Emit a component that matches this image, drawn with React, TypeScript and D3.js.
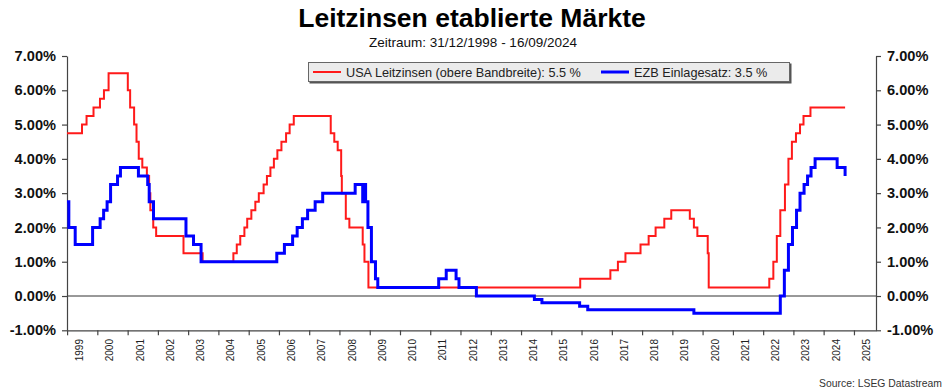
import React, { useEffect, useRef } from "react";
import * as d3 from "d3";

// USA Leitzinsen (obere Bandbreite), Stufen ab Datum
const fedDates = [
  "1998-12-31", "1999-06-30", "1999-08-24", "1999-11-16", "2000-02-02", "2000-03-21",
  "2000-05-16", "2001-01-03", "2001-01-31", "2001-03-20", "2001-04-18", "2001-05-15",
  "2001-06-27", "2001-08-21", "2001-09-17", "2001-10-02", "2001-11-06", "2001-12-11",
  "2002-11-06", "2003-06-25", "2004-06-30", "2004-08-10", "2004-09-21", "2004-11-10",
  "2004-12-14", "2005-02-02", "2005-03-22", "2005-05-03", "2005-06-30", "2005-08-09",
  "2005-09-20", "2005-11-01", "2005-12-13", "2006-01-31", "2006-03-28", "2006-05-10",
  "2006-06-29", "2007-09-18", "2007-10-31", "2007-12-11", "2008-01-22", "2008-01-30",
  "2008-03-18", "2008-04-30", "2008-10-08", "2008-10-29", "2008-12-16", "2015-12-16",
  "2016-12-14", "2017-03-15", "2017-06-14", "2017-12-13", "2018-03-21", "2018-06-13",
  "2018-09-26", "2018-12-19", "2019-07-31", "2019-09-18", "2019-10-30", "2020-03-03",
  "2020-03-15", "2022-03-16", "2022-05-04", "2022-06-15", "2022-07-27", "2022-09-21",
  "2022-11-02", "2022-12-14", "2023-02-01", "2023-03-22", "2023-05-03", "2023-07-26",
  "2024-09-16",
];
const fedRates = [
  4.75, 5.0, 5.25, 5.5, 5.75, 6.0,
  6.5, 6.0, 5.5, 5.0, 4.5, 4.0,
  3.75, 3.5, 3.0, 2.5, 2.0, 1.75,
  1.25, 1.0, 1.25, 1.5, 1.75, 2.0,
  2.25, 2.5, 2.75, 3.0, 3.25, 3.5,
  3.75, 4.0, 4.25, 4.5, 4.75, 5.0,
  5.25, 4.75, 4.5, 4.25, 3.5, 3.0,
  2.25, 2.0, 1.5, 1.0, 0.25, 0.5,
  0.75, 1.0, 1.25, 1.5, 1.75, 2.0,
  2.25, 2.5, 2.25, 2.0, 1.75, 1.25,
  0.25, 0.5, 1.0, 1.75, 2.5, 3.25,
  4.0, 4.5, 4.75, 5.0, 5.25, 5.5,
  5.5,
];

// EZB Einlagesatz
const ecbDates = [
  "1998-12-31", "1999-01-22", "1999-04-09", "1999-11-05", "2000-02-04", "2000-03-17",
  "2000-04-28", "2000-06-09", "2000-09-01", "2000-10-06", "2001-05-11", "2001-08-31",
  "2001-09-18", "2001-11-09", "2002-12-06", "2003-03-07", "2003-06-06", "2005-12-06",
  "2006-03-08", "2006-06-15", "2006-08-09", "2006-10-11", "2006-12-13", "2007-03-14",
  "2007-06-13", "2008-07-09", "2008-10-08", "2008-10-15", "2008-11-12", "2008-12-10",
  "2009-01-21", "2009-03-11", "2009-04-08", "2011-04-13", "2011-07-13", "2011-11-09",
  "2011-12-14", "2012-07-11", "2014-06-11", "2014-09-10", "2015-12-09", "2016-03-16",
  "2019-09-18", "2022-07-27", "2022-09-14", "2022-11-02", "2022-12-21", "2023-02-08",
  "2023-03-22", "2023-05-10", "2023-06-21", "2023-08-02", "2023-09-20", "2024-06-12",
  "2024-09-16",
];
const ecbRates = [
  2.75, 2.0, 1.5, 2.0, 2.25, 2.5,
  2.75, 3.25, 3.5, 3.75, 3.5, 3.25,
  2.75, 2.25, 1.75, 1.5, 1.0, 1.25,
  1.5, 1.75, 2.0, 2.25, 2.5, 2.75,
  3.0, 3.25, 2.75, 3.25, 2.75, 2.0,
  1.0, 0.5, 0.25, 0.5, 0.75, 0.5,
  0.25, 0.0, -0.1, -0.2, -0.3, -0.4,
  -0.5, 0.0, 0.75, 1.5, 2.0, 2.5,
  3.0, 3.25, 3.5, 3.75, 4.0, 3.75,
  3.5,
];

const yTicks = [-1, 0, 1, 2, 3, 4, 5, 6, 7];
const yearLabels = [
  "1999", "2000", "2001", "2002", "2003", "2004", "2005", "2006", "2007",
  "2008", "2009", "2010", "2011", "2012", "2013", "2014", "2015", "2016",
  "2017", "2018", "2019", "2020", "2021", "2022", "2023", "2024", "2025",
];
const seriesNames = ["USA Leitzinsen (obere Bandbreite): 5.5 %", "EZB Einlagesatz: 3.5 %"];

const App: React.FC = () => {
  const svgRef = useRef<SVGSVGElement | null>(null);

  useEffect(() => {
    const svg = d3.select(svgRef.current);
    svg.selectAll("*").remove();

    const W = 945;
    const H = 390;
    const left = 67;
    const right = 876;
    const top = 56;
    const bottom = 330.3;
    const font = "'Liberation Sans', Arial, sans-serif";
    const parse = d3.timeParse("%Y-%m-%d");

    const x = d3
      .scaleTime()
      .domain([parse("1998-12-31")!, parse("2025-09-24")!])
      .range([left, right]);
    const y = d3.scaleLinear().domain([-1, 7]).range([bottom, top]);

    svg.append("rect").attr("width", W).attr("height", H).attr("fill", "white");

    // title
    svg
      .append("text")
      .attr("x", 472)
      .attr("y", 27)
      .attr("text-anchor", "middle")
      .style("font-family", font)
      .style("font-weight", 700)
      .style("font-size", "26.5px")
      .attr("fill", "#000")
      .text("Leitzinsen etablierte Märkte");

    svg
      .append("text")
      .attr("x", 473)
      .attr("y", 47)
      .attr("text-anchor", "middle")
      .style("font-family", font)
      .style("font-size", "13.5px")
      .attr("fill", "#111")
      .text("Zeitraum: 31/12/1998 - 16/09/2024");

    // zero line
    svg
      .append("line")
      .attr("x1", left)
      .attr("x2", right)
      .attr("y1", y(0))
      .attr("y2", y(0))
      .attr("stroke", "#333")
      .attr("stroke-width", 1);

    const styleAxis = (g: d3.Selection<SVGGElement, unknown, null, undefined>) => {
      g.selectAll("path").attr("stroke", "#444").attr("stroke-width", 1.2);
      g.selectAll("line").attr("stroke", "#444").attr("stroke-width", 1.2);
      g.selectAll("text")
        .attr("fill", "#111")
        .style("font-family", font)
        .style("font-weight", 700)
        .style("font-size", "14.6px");
    };

    const minorY = d3.range(-1, 7.001, 0.2);
    const fmt = (d: d3.NumberValue) => (d as number).toFixed(2) + "%";

    // left axis
    const gl = svg.append("g").attr("transform", `translate(${left},0)`);
    gl.call(d3.axisLeft(y).tickValues(minorY).tickSize(3).tickFormat(() => "").tickSizeOuter(0));
    gl.call(d3.axisLeft(y).tickValues(yTicks).tickSize(5).tickPadding(6).tickFormat(fmt).tickSizeOuter(0));
    styleAxis(gl);

    // right axis
    const gr = svg.append("g").attr("transform", `translate(${right},0)`);
    gr.call(d3.axisRight(y).tickValues(minorY).tickSize(3).tickFormat(() => "").tickSizeOuter(0));
    gr.call(d3.axisRight(y).tickValues(yTicks).tickSize(5).tickPadding(6).tickFormat(fmt).tickSizeOuter(0));
    styleAxis(gr);

    // bottom axis
    const gb = svg.append("g").attr("transform", `translate(0,${bottom})`);
    gb.call(d3.axisBottom(x).ticks(d3.timeMonth.every(3)).tickSize(3).tickFormat(() => "").tickSizeOuter(0));
    gb.call(d3.axisBottom(x).ticks(d3.timeYear.every(1)).tickSize(5).tickFormat(() => "").tickSizeOuter(0));
    styleAxis(gb);

    // year labels, rotated
    svg
      .append("g")
      .selectAll("text")
      .data(yearLabels)
      .enter()
      .append("text")
      .attr("transform", (d) => {
        const mid = x(new Date(+d, 6, 1));
        return `translate(${mid + 1},339) rotate(-90)`;
      })
      .attr("text-anchor", "end")
      .style("font-family", font)
      .style("font-size", "10px")
      .attr("fill", "#222")
      .text((d) => d);

    // series
    const line = d3
      .line<[Date, number]>()
      .x((d) => x(d[0]))
      .y((d) => y(d[1]))
      .curve(d3.curveStepAfter);

    const fed: [Date, number][] = fedDates.map((d, i) => [parse(d)!, fedRates[i]]);
    const ecb: [Date, number][] = ecbDates.map((d, i) => [parse(d)!, ecbRates[i]]);

    svg
      .append("path")
      .datum(fed)
      .attr("d", line)
      .attr("fill", "none")
      .attr("stroke", "#ff1a1a")
      .attr("stroke-width", 2);

    svg
      .append("path")
      .datum(ecb)
      .attr("d", line)
      .attr("fill", "none")
      .attr("stroke", "#0000ff")
      .attr("stroke-width", 3);

    // legend
    const lg = svg.append("g");
    lg.append("rect")
      .attr("x", 309.5)
      .attr("y", 63.5)
      .attr("width", 482)
      .attr("height", 20)
      .attr("fill", "#555");
    lg.append("rect")
      .attr("x", 308.5)
      .attr("y", 62.5)
      .attr("width", 481)
      .attr("height", 19)
      .attr("fill", "#ebebeb")
      .attr("stroke", "#666")
      .attr("stroke-width", 1);

    const items = [
      { x1: 313, x2: 341, color: "#ff1a1a", w: 2 },
      { x1: 601, x2: 629, color: "#0000ff", w: 3 },
    ];
    items.forEach((it, i) => {
      lg.append("line")
        .attr("x1", it.x1)
        .attr("x2", it.x2)
        .attr("y1", 72)
        .attr("y2", 72)
        .attr("stroke", it.color)
        .attr("stroke-width", it.w);
      lg.append("text")
        .attr("x", it.x2 + 5)
        .attr("y", 76.5)
        .style("font-family", font)
        .style("font-size", "12.7px")
        .attr("fill", "#222")
        .text(seriesNames[i]);
    });

    // source
    svg
      .append("text")
      .attr("x", 942)
      .attr("y", 387)
      .attr("text-anchor", "end")
      .style("font-family", font)
      .style("font-size", "10.4px")
      .attr("fill", "#333")
      .text("Source: LSEG Datastream");
  }, []);

  return (
    <svg
      ref={svgRef}
      width={945}
      height={390}
      style={{ position: "absolute", left: 0, top: 0, display: "block" }}
    ></svg>
  );
};

export default App;
